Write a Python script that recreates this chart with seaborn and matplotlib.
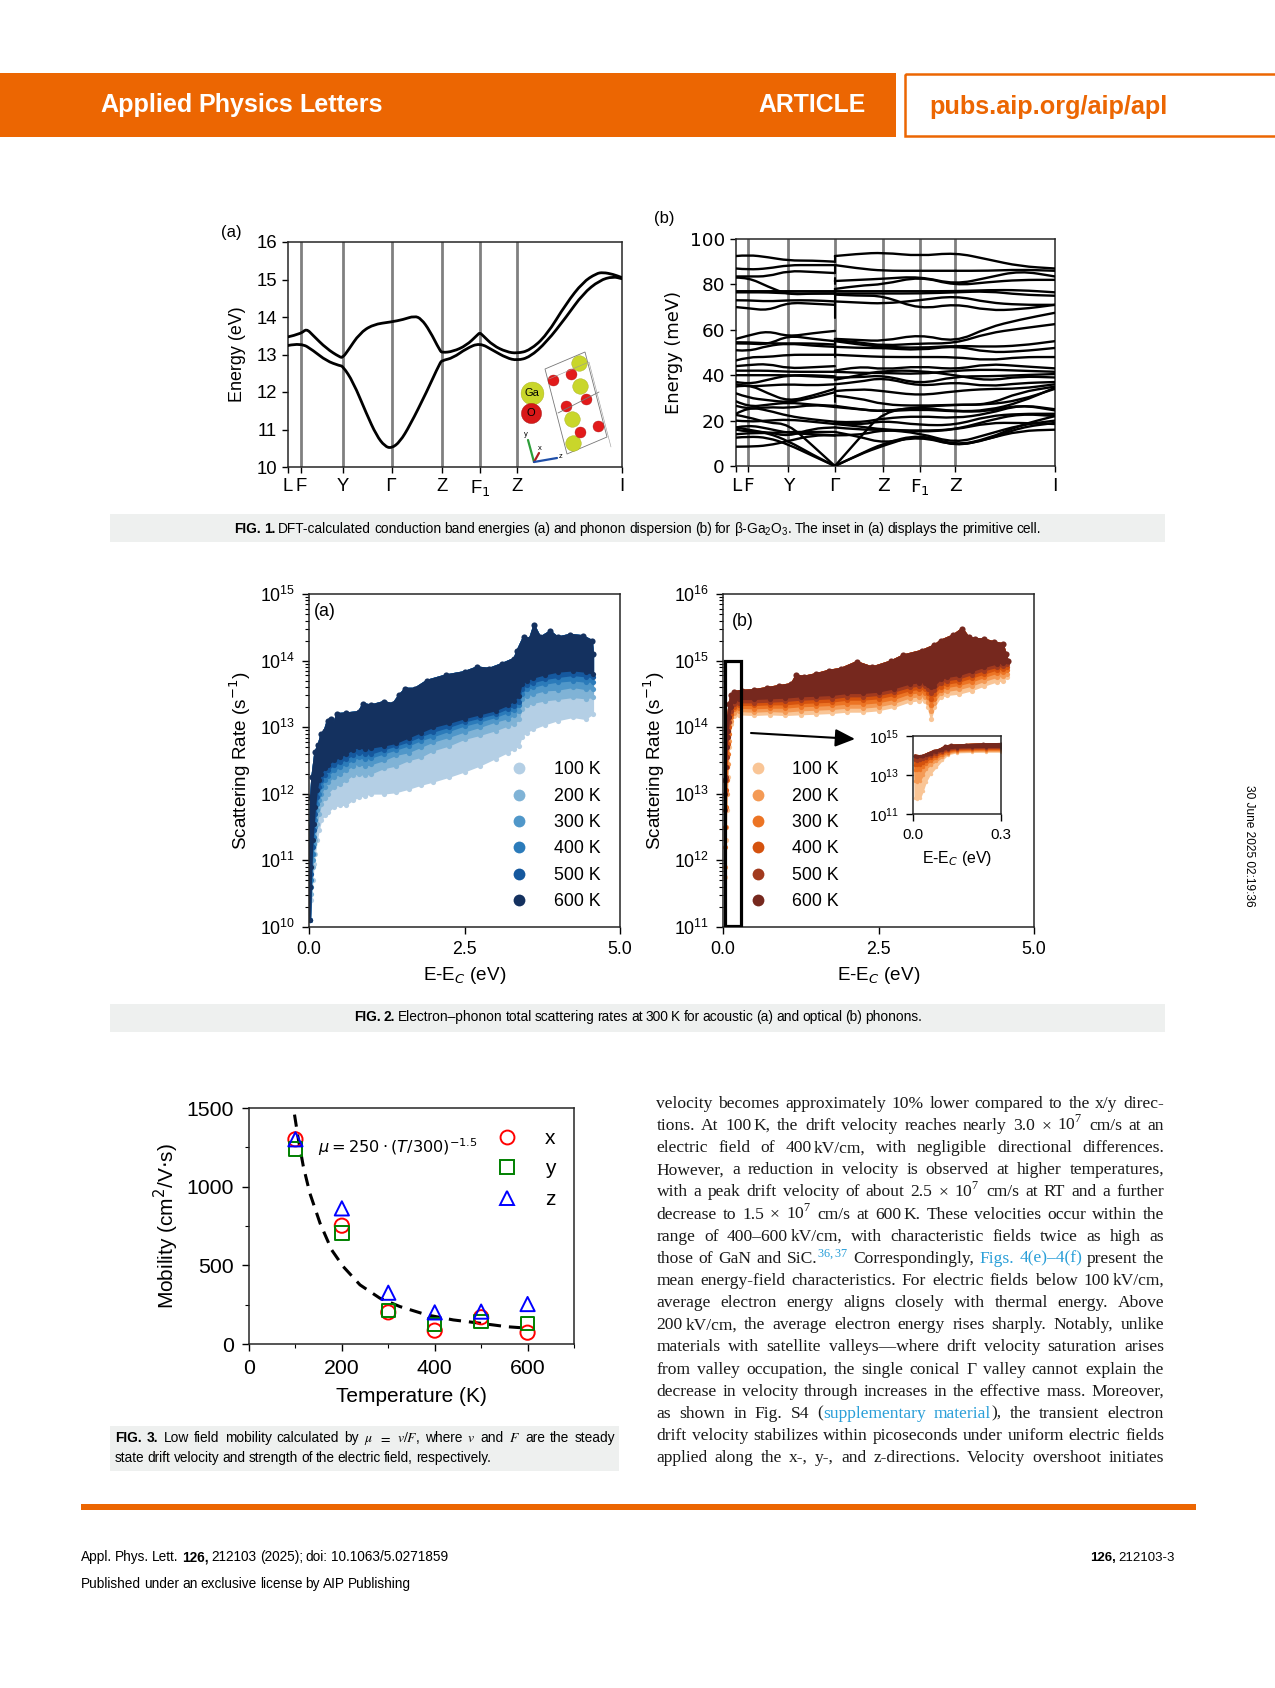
import numpy as np
import pandas as pd
import seaborn as sns
import matplotlib.pyplot as plt
from matplotlib.lines import Line2D
from matplotlib.path import Path
from matplotlib.patches import Rectangle, Polygon, PathPatch
from matplotlib.ticker import LogLocator, NullFormatter, FixedLocator

ORANGE = '#EC6602'
BAND = '#EEF0EF'
BLUE_LINK = '#2A9FD8'
SANS = 'Liberation Sans'
SERIF = 'Liberation Serif'

# k-path labels shared by both band plots
k_ticks = [0, 0.039, 0.164, 0.31, 0.462, 0.576, 0.687, 1]
k_labels = ['L', 'F', 'Y', r'$\Gamma$', 'Z', r'F$_1$', 'Z', 'I']

# Fig 1a conduction bands
cb_upper_k = [0, .039, .055, .075, .115, .155, .164, .18, .214, .254, .31, .344, .379, .399, .424, .455, .462, .494, .534, .567, .574, .582,
              .614, .654, .686, .724, .774, .833, .883, .923, .943, .973, 1]
cb_upper = [13.47, 13.55, 13.69, 13.51, 13.16, 12.93, 12.92, 13.11, 13.56, 13.8, 13.87, 13.93, 14.03, 13.95, 13.64, 13.1, 13.05,
            13.08, 13.24, 13.52, 13.58, 13.52, 13.24, 13.07, 13.03, 13.11, 13.51, 14.36, 14.93, 15.16, 15.19, 15.14, 15.05]
cb_lower_k = [0, .039, .075, .115, .155, .164, .195, .235, .265, .29, .31, .335, .365, .415, .455, .462, .494, .534, .574,
              .614, .654, .686, .724, .774, .833, .883, .933, .973, 1]
cb_lower = [13.24, 13.31, 13.11, 12.83, 12.7, 12.69, 12.27, 11.42, 10.84, 10.55, 10.5, 10.67, 11.11, 12.0, 12.78, 12.84, 12.91,
            13.16, 13.31, 13.11, 12.91, 12.84, 12.93, 13.33, 14.0, 14.62, 14.98, 15.08, 15.02]

# Fig 1b phonon branches, read at the k points below (Gamma twice: LO-TO jump)
ph_k = [0, .039, .10, .164, .24, .31, .31, .385, .462, .576, .687, .79, .89, 1]
ph_bands = [
    [92.5, 93, 92, 90.5, 90.5, 90, 92.5, 93.5, 94, 92.5, 94, 91, 88, 87],
    [87, 86.5, 87, 88.5, 88.5, 88.5, 88.5, 87, 86, 86, 86, 86, 86.5, 86],
    [83.5, 83.5, 83.5, 86, 85.5, 85, 81.5, 82, 82.5, 83.5, 80, 83, 86, 83.5],
    [83, 83, 79, 75.5, 76, 76, 78, 79.5, 80, 83.5, 79.5, 81, 82, 82],
    [77, 77, 77, 77, 77, 77, 77, 77, 77, 77, 77, 77.5, 77.5, 76.5],
    [76.5, 76.5, 76.5, 76, 76, 76, 76, 76, 76, 76, 76.5, 77, 75.5, 75],
    [73, 73, 72.5, 73, 73, 72.5, 72.5, 72, 71.5, 73, 75, 72, 71, 71],
    [70, 69.5, 68.5, 72, 71.5, 71, 75.5, 75, 75, 69, 71.5, 68.5, 69, 71],
    [56, 57.5, 59.5, 57, 58.5, 59.5, 56, 55.5, 55, 58, 54.5, 61, 64.5, 67.5],
    [54.5, 54.5, 54, 54, 54, 53.5, 55.5, 54.5, 53, 54, 54, 58.5, 60.5, 62.5],
    [54, 54, 53.5, 57.5, 56, 55, 55, 53.5, 52.5, 52, 53, 52.5, 53, 55],
    [51, 50.5, 53, 54, 53, 52.5, 52.5, 52, 52, 51, 53, 50, 50.5, 52],
    [46.5, 48, 48, 49, 49, 49, 49, 48.5, 48, 48, 48, 46.5, 48, 48],
    [44, 44.5, 45, 43, 43.5, 44, 42, 44, 42.5, 44, 42.5, 45, 44, 43],
    [42, 42, 42, 41.5, 41.5, 41.5, 41.5, 41, 41, 40.5, 42, 42.5, 42, 41.5],
    [40, 40, 40, 40, 39.5, 39, 39, 39, 40, 36, 39.5, 39.5, 40, 40.5],
    [37, 36, 38, 40, 40, 39.5, 38, 40, 42, 42, 40, 37.5, 39.5, 39],
    [36, 35, 35.5, 36, 35.5, 36, 36, 37, 39, 35, 37, 35, 36.5, 37],
    [35, 36, 32, 28.5, 31, 34, 33, 34, 33, 31, 33, 34, 34, 36],
    [32, 30, 29, 28, 30, 32.5, 31, 30, 27, 26.5, 27, 27, 32.5, 35],
    [28.5, 26, 27, 28, 27, 26.5, 26.5, 25, 24, 26, 24, 24.5, 28, 34.5],
    [26.5, 25, 26, 25.5, 27, 26, 26, 25, 24, 25, 24, 24, 27, 24.5],
    [23, 26, 24.5, 22, 20.5, 19.5, 19.5, 19, 21, 22, 21, 23, 27, 25],
    [22.5, 21.5, 19, 18.5, 9, 0, 0, 12, 24, 26, 27, 27, 29, 34],
    [17, 16, 14.5, 11, 5, 0, 0, 5, 10, 14, 9, 12, 18, 22],
    [12.5, 13, 12.5, 9.5, 4.5, 0, 0, 5, 9, 14, 8.5, 12, 15.5, 16],
    [17, 18, 16.5, 14.5, 14, 13.5, 13.5, 13.5, 16, 15, 16, 19, 19, 18.5],
    [16, 15, 15, 13, 16.5, 17, 17, 16, 16, 14.5, 10, 14, 18, 20],
    [14, 14.5, 14.5, 15, 15, 15, 15, 13, 10, 13, 9, 11.5, 17, 19],
    [8.5, 8.5, 9, 11, 13.5, 13.5, 19, 18, 20, 18, 18, 22, 23, 23],
    [20, 19.5, 20, 20.5, 19.5, 18.5, 18.5, 17.5, 16, 15.5, 16, 20, 23, 22],
]
# short vertical jumps right at Gamma
gamma_k = 0.31
gamma_jumps = [(65, 78), (80, 83), (85, 88), (90, 92.5), (48, 55.5), (28, 35)]

temps = ['100 K', '200 K', '300 K', '400 K', '500 K', '600 K']
blues = ['#B4CFE5', '#80B3D6', '#5097C9', '#2B7BBA', '#15589E', '#14315F']
browns = ['#F9C596', '#F49A55', '#EC7424', '#D4520E', '#A23A1E', '#76281E']

# Fig 2a acoustic rates, log10(s^-1)
ac_x = [.02, .04, .06, .08, .1, .13, .16, .2, .25, .3, .4, .5, .6, .7, .8, .9, 1.0, 1.2, 1.4, 1.6, 1.8, 2.0, 2.25,
        2.5, 2.75, 3.0, 3.2, 3.3, 3.38, 3.42, 3.5, 3.6, 3.8, 4.0, 4.25, 4.45, 4.57]
ac_100 = [10.1, 10.4, 10.7, 10.95, 11.1, 11.3, 11.45, 11.6, 11.68, 11.72, 11.8, 11.83, 11.83, 11.9, 11.95, 11.97, 12.0,
          12.0, 12.02, 12.07, 12.13, 12.18, 12.25, 12.33, 12.42, 12.53, 12.62, 12.68, 12.72, 12.85, 12.92, 12.97,
          13.04, 13.1, 13.15, 13.12, 13.2]
ac_200 = [10.1, 10.5, 10.9, 11.1, 11.3, 11.55, 11.7, 11.85, 11.93, 12.0, 12.1, 12.15, 12.2, 12.28, 12.3, 12.28, 12.3,
          12.38, 12.42, 12.5, 12.55, 12.65, 12.72, 12.82, 12.88, 12.95, 13.02, 13.05, 13.12, 13.28, 13.33, 13.36,
          13.4, 13.42, 13.45, 13.43, 13.45]
ac_300 = [10.1, 10.6, 11.0, 11.25, 11.5, 11.75, 11.9, 12.0, 12.1, 12.17, 12.25, 12.3, 12.35, 12.42, 12.45, 12.42, 12.44,
          12.5, 12.58, 12.62, 12.7, 12.78, 12.85, 12.93, 13.0, 13.08, 13.13, 13.18, 13.25, 13.42, 13.47, 13.5,
          13.55, 13.56, 13.6, 13.57, 13.58]
ac_400 = [10.1, 10.7, 11.1, 11.35, 11.6, 11.85, 12.0, 12.12, 12.2, 12.27, 12.35, 12.4, 12.45, 12.5, 12.55, 12.52, 12.54,
          12.6, 12.66, 12.72, 12.8, 12.86, 12.94, 13.02, 13.08, 13.15, 13.22, 13.26, 13.33, 13.5, 13.57, 13.6,
          13.65, 13.68, 13.7, 13.68, 13.68]
ac_500 = [10.1, 10.8, 11.2, 11.45, 11.7, 11.95, 12.1, 12.2, 12.28, 12.35, 12.43, 12.47, 12.52, 12.58, 12.62, 12.6, 12.6,
          12.66, 12.72, 12.78, 12.86, 12.93, 13.0, 13.08, 13.14, 13.2, 13.28, 13.32, 13.38, 13.57, 13.63, 13.67,
          13.72, 13.75, 13.78, 13.76, 13.75]
ac_600 = [10.1, 10.9, 11.3, 11.55, 11.8, 12.05, 12.2, 12.3, 12.38, 12.43, 12.5, 12.55, 12.6, 12.66, 12.7, 12.67, 12.69,
          12.72, 12.76, 12.84, 12.92, 13.0, 13.06, 13.13, 13.19, 13.25, 13.33, 13.4, 13.47, 13.65, 13.7, 13.74,
          13.79, 13.83, 13.85, 13.83, 13.8]
ac_top_x = [.01, .02, .03, .05, .1, .15, .2, .25, .3, .35, .4, .45, .6, .8, .87, 1.0, 1.2, 1.35, 1.45, 1.55, 1.7, 1.9,
            2.2, 2.5, 2.7, 2.9, 3.1, 3.3, 3.35, 3.45, 3.55, 3.62, 3.72, 3.88, 4.0, 4.2, 4.4, 4.55, 4.57]
ac_top = [10.6, 11.5, 11.95, 12.25, 12.63, 12.73, 12.9, 12.95, 13.1, 13.13, 13.05, 13.2, 13.21, 13.23, 13.35, 13.33,
          13.38, 13.35, 13.48, 13.58, 13.58, 13.7, 13.78, 13.83, 13.9, 13.88, 13.95, 14.03, 14.15, 14.35, 14.33,
          14.53, 14.35, 14.44, 14.35, 14.39, 14.37, 14.3, 14.1]

# Fig 2b optical rates, log10(s^-1)
op_x = [.03, .045, .06, .08, .1, .13, .17, .25, .5, .75, 1.0, 1.25, 1.5, 1.75, 2.0, 2.25, 2.5, 2.75, 3.0, 3.15, 3.25,
        3.3, 3.35, 3.4, 3.5, 3.6, 3.8, 4.0, 4.2, 4.4, 4.5, 4.57]
op_100 = [11.75, 12.3, 12.75, 13.25, 13.7, 14.05, 14.17, 14.19, 14.18, 14.19, 14.18, 14.19, 14.2, 14.21, 14.23, 14.23,
          14.25, 14.3, 14.38, 14.4, 14.4, 14.3, 14.13, 14.3, 14.45, 14.48, 14.5, 14.55, 14.62, 14.68, 14.7, 14.75]
op_200 = [11.9, 12.5, 13.0, 13.45, 13.8, 14.1, 14.22, 14.24, 14.23, 14.24, 14.23, 14.25, 14.26, 14.27, 14.29, 14.29,
          14.31, 14.36, 14.44, 14.46, 14.46, 14.38, 14.24, 14.37, 14.51, 14.54, 14.57, 14.62, 14.69, 14.75, 14.77, 14.8]
op_300 = [12.2, 12.8, 13.2, 13.6, 13.9, 14.15, 14.27, 14.29, 14.28, 14.29, 14.29, 14.31, 14.32, 14.33, 14.35, 14.35,
          14.37, 14.42, 14.5, 14.52, 14.52, 14.45, 14.33, 14.43, 14.56, 14.6, 14.63, 14.68, 14.75, 14.81, 14.83, 14.86]
op_400 = [12.5, 13.05, 13.4, 13.75, 14.0, 14.2, 14.31, 14.33, 14.33, 14.34, 14.34, 14.36, 14.37, 14.38, 14.41, 14.41,
          14.43, 14.48, 14.55, 14.57, 14.57, 14.52, 14.42, 14.5, 14.61, 14.65, 14.68, 14.74, 14.8, 14.86, 14.88, 14.9]
op_500 = [12.75, 13.25, 13.55, 13.85, 14.08, 14.25, 14.35, 14.37, 14.37, 14.38, 14.39, 14.41, 14.42, 14.43, 14.46, 14.46,
          14.48, 14.53, 14.6, 14.62, 14.62, 14.58, 14.51, 14.56, 14.66, 14.7, 14.73, 14.79, 14.85, 14.9, 14.92, 14.95]
op_600 = [13.0, 13.4, 13.7, 13.95, 14.15, 14.3, 14.4, 14.42, 14.42, 14.43, 14.44, 14.46, 14.47, 14.48, 14.51, 14.51,
          14.53, 14.58, 14.65, 14.67, 14.67, 14.64, 14.6, 14.62, 14.72, 14.75, 14.78, 14.84, 14.9, 14.95, 14.97, 15.0]
op_top_x = [.03, .06, .08, .1, .13, .18, .3, .5, .7, .9, 1.1, 1.18, 1.3, 1.5, 1.7, 1.9, 2.15, 2.4, 2.7, 2.9, 3.2, 3.4,
            3.5, 3.7, 3.85, 3.95, 4.05, 4.2, 4.35, 4.5, 4.55, 4.58]
op_top = [13.2, 13.85, 14.15, 14.35, 14.48, 14.53, 14.55, 14.56, 14.59, 14.62, 14.65, 14.78, 14.76, 14.8, 14.85, 14.88,
          14.98, 14.9, 14.99, 15.08, 15.15, 15.23, 15.3, 15.38, 15.48, 15.35, 15.33, 15.32, 15.28, 15.25, 15.1, 15.0]

# Fig 2b inset
ins_x = [.008, .015, .025, .035, .045, .06, .08, .1, .12, .15, .2, .25, .3]
ins_100 = [11.8, 11.75, 11.8, 12.2, 12.65, 13.05, 13.4, 13.75, 14.05, 14.15, 14.17, 14.18, 14.18]
ins_200 = [12.7, 12.65, 12.7, 13.0, 13.3, 13.5, 13.7, 13.9, 14.1, 14.2, 14.22, 14.23, 14.23]
ins_300 = [13.25, 13.25, 13.25, 13.4, 13.55, 13.7, 13.85, 14.02, 14.15, 14.25, 14.27, 14.28, 14.28]
ins_400 = [13.5, 13.5, 13.5, 13.6, 13.7, 13.85, 13.97, 14.12, 14.22, 14.3, 14.32, 14.33, 14.33]
ins_500 = [13.75, 13.72, 13.75, 13.8, 13.88, 13.98, 14.08, 14.2, 14.28, 14.35, 14.37, 14.38, 14.38]
ins_600 = [13.95, 13.93, 13.95, 13.98, 14.03, 14.1, 14.2, 14.28, 14.35, 14.4, 14.42, 14.43, 14.43]
ins_top_x = [.006, .03, .05, .07, .09, .11, .13, .18, .24, .3]
ins_top = [14.0, 13.97, 14.1, 14.23, 14.3, 14.47, 14.52, 14.55, 14.59, 14.6]

# Fig 3 mobility
T_vals = [100, 200, 300, 400, 500, 600]
mu_x = [1301, 752, 201, 85, 170, 72]
mu_y = [1240, 704, 212, 125, 142, 131]
mu_z = [1301, 862, 326, 201, 206, 254]
fit_T = [98, 106.5, 117, 131, 153, 178, 203, 239, 282, 325, 383, 440, 498, 555, 602]
fit_mu = [1458, 1298, 1129, 959, 768, 598, 492, 376, 291, 238, 185, 153, 132, 110, 100]

body_lines = [
    "velocity becomes approximately 10% lower compared to the x/y direc-",
    "tions. At 100 +K, the drift velocity reaches nearly 3.0 × 10$^{\\mathregular{7}}$ cm/s at an",
    "electric field of 400 +kV/cm, with negligible directional differences.",
    "However, a reduction in velocity is observed at higher temperatures,",
    "with a peak drift velocity of about 2.5 × 10$^{\\mathregular{7}}$ cm/s at RT and a further",
    "decrease to 1.5 × 10$^{\\mathregular{7}}$ cm/s at 600 +K. These velocities occur within the",
    "range of 400–600 +kV/cm, with characteristic fields twice as high as",
    "those of GaN and SiC. ~#$^{\\mathregular{36,37}}$ Correspondingly, #Figs. #4(e)–4(f) present the",
    "mean energy-field characteristics. For electric fields below 100 +kV/cm,",
    "average electron energy aligns closely with thermal energy. Above",
    "200 +kV/cm, the average electron energy rises sharply. Notably, unlike",
    "materials with satellite valleys—where drift velocity saturation arises",
    "from valley occupation, the single conical Γ valley cannot explain the",
    "decrease in velocity through increases in the effective mass. Moreover,",
    "as shown in Fig. S4 ( ~#supplementary #material ~), the transient electron",
    "drift velocity stabilizes within picoseconds under uniform electric fields",
    "applied along the x-, y-, and z-directions. Velocity overshoot initiates",
]

sns.set_theme(style='ticks')
plt.rcParams['font.family'] = [SANS, 'DejaVu Sans']
plt.rcParams['mathtext.fontset'] = 'dejavusans'
plt.rcParams['axes.linewidth'] = 1.1
plt.rcParams['xtick.color'] = 'black'
plt.rcParams['ytick.color'] = 'black'
plt.rcParams['text.color'] = 'black'
plt.rcParams['axes.labelcolor'] = 'black'

W, H = 1275, 1688
fig = plt.figure(figsize=(W / 100, H / 100), dpi=100)


def make_ax(left, right, top, bottom):
    return fig.add_axes([left / W, 1 - bottom / H, (right - left) / W, (bottom - top) / H])


# page furniture goes on one full page axes in pixel coords
page = fig.add_axes([0, 0, 1, 1], zorder=5)
page.set_xlim(0, W)
page.set_ylim(H, 0)
page.axis('off')
renderer = fig.canvas.get_renderer()


def fit_line(line, x0, x1, y, size, family, color='black', weight='normal', mathfont='dejavusans'):
    # place words one by one so the line fills x0..x1
    # * bold, # link colour, + attach with thin gap, ~ attach with no gap
    items = []
    for w in line.split(' '):
        glue = None
        if w.startswith('+'):
            glue, w = 2.5, w[1:]
        elif w.startswith('~'):
            glue, w = 0.0, w[1:]
        col, wt = color, weight
        if w.startswith('#'):
            col, w = BLUE_LINK, w[1:]
        if w.startswith('*'):
            wt, w = 'bold', w[1:]
        t = page.text(0, y, w, fontsize=size, family=family, color=col, weight=wt, va='baseline', ha='left',
                      math_fontfamily=mathfont)
        items.append((t, glue, t.get_window_extent(renderer).width))
    total = sum(i[2] for i in items) + sum(i[1] for i in items if i[1] is not None)
    n_gaps = sum(1 for i in items[1:] if i[1] is None)
    gap = (x1 - x0 - total) / max(n_gaps, 1)
    x = x0
    for n, (t, glue, w) in enumerate(items):
        if n > 0:
            x += gap if glue is None else glue
        t.set_x(x)
        x += w


def smooth_band(ax, k, e, lw):
    # quadratic path with the read values as control points, keeps the band lines round
    pts = np.column_stack([k, e])
    verts = [pts[0]]
    codes = [Path.MOVETO]
    for i in range(1, len(pts) - 1):
        verts += [pts[i], (pts[i] + pts[i + 1]) / 2]
        codes += [Path.CURVE3, Path.CURVE3]
    verts.append(pts[-1])
    codes.append(Path.LINETO)
    ax.add_patch(PathPatch(Path(verts, codes), fill=False, ec='black', lw=lw, zorder=3, capstyle='round'))


def setup_band_axes(ax, family, size, ylabel, ylim, yticks, label_x):
    ax.set_xlim(0, 1)
    ax.set_ylim(*ylim)
    ax.set_yticks(yticks)
    ax.set_xticks(k_ticks)
    ax.set_xticklabels(k_labels)
    for v in k_ticks[1:-1]:
        ax.axvline(v, color='#808080', lw=2.0, zorder=1)
    ax.tick_params(length=4, width=1.0, labelsize=size, pad=4)
    for lab in ax.get_xticklabels() + ax.get_yticklabels():
        lab.set_family(family)
    ax.set_xlabel('')
    ax.set_ylabel(ylabel, fontsize=12.9, family=family)
    ax.yaxis.set_label_coords(label_x, 0.5)


# FIG 1a
ax1 = make_ax(288, 622, 242, 467)
smooth_band(ax1, cb_upper_k, cb_upper, 2.0)
smooth_band(ax1, cb_lower_k, cb_lower, 2.0)
setup_band_axes(ax1, SANS, 13.3, 'Energy (eV)', (10, 16), range(10, 17), -0.125)

# FIG 1b
ax2 = make_ax(736, 1055, 239, 466)
for band in ph_bands:
    smooth_band(ax2, ph_k[:6], band[:6], 1.7)
    smooth_band(ax2, ph_k[6:], band[6:], 1.7)
for lo, hi in gamma_jumps:
    sns.lineplot(x=[gamma_k, gamma_k], y=[lo, hi], color='black', lw=1.5, ax=ax2, zorder=3, sort=False, estimator=None)
setup_band_axes(ax2, 'DejaVu Sans', 13.3, 'Energy (meV)', (0, 100), range(0, 101, 20), -0.165)


def rate_panel(ax, x, lowers, top_x, top, colors, size=14):
    # each temperature fills from its lower edge up to the top envelope, dots give the lumpy edge
    top_x = np.array(top_x)
    top_y = 10.0 ** np.array(top)
    for low, col in zip(lowers, colors):
        low_y = 10.0 ** np.array(low)
        ax.fill(np.r_[x, top_x[::-1]], np.r_[low_y, top_y[::-1]], color=col, lw=1.2, zorder=2, joinstyle='round')
        sns.scatterplot(x=x, y=low_y, color=col, s=size, linewidth=0, ax=ax, zorder=2, legend=False)
    sns.scatterplot(x=top_x, y=top_y, color=colors[-1], s=size * 1.4, linewidth=0, ax=ax, zorder=2, legend=False)


def setup_rate_axes(ax, ylim, xlim, xticks, size, lab_x, minor=True):
    ax.set_yscale('log')
    ax.set_ylim(*ylim)
    ax.set_xlim(*xlim)
    ax.set_xticks(xticks)
    ax.set_xticklabels([f'{v:.1f}' for v in xticks])
    ax.tick_params(which='major', length=5, width=1.0, labelsize=size, pad=5)
    ax.tick_params(which='minor', length=3, width=0.8)
    ax.yaxis.set_major_locator(LogLocator(base=10, numticks=12))
    if minor:
        ax.yaxis.set_minor_locator(LogLocator(base=10, subs=np.arange(2, 10) * 0.1, numticks=12))
    else:
        ax.yaxis.set_minor_locator(FixedLocator([]))
    ax.yaxis.set_minor_formatter(NullFormatter())
    ax.set_xlabel(r'E-E$_C$ (eV)', fontsize=size * 1.06, labelpad=5)
    if lab_x is not None:
        ax.set_ylabel(r'Scattering Rate (s$^{-1}$)', fontsize=size * 1.06)
        ax.yaxis.set_label_coords(lab_x, 0.5)
    else:
        ax.set_ylabel('')


def temp_legend(ax, colors, anchor):
    handles = [Line2D([], [], marker='o', ls='', ms=8.5, color=c, mew=0) for c in colors]
    ax.legend(handles, temps, loc='center', bbox_to_anchor=anchor, frameon=False, fontsize=12.8,
              handletextpad=0.92, labelspacing=0.525, borderpad=0, borderaxespad=0)


# FIG 2a
ax3 = make_ax(309, 620, 594, 927)
rate_panel(ax3, ac_x, [ac_100, ac_200, ac_300, ac_400, ac_500, ac_600], ac_top_x, ac_top, blues)
setup_rate_axes(ax3, (1e10, 1e15), (0, 5), [0, 2.5, 5], 12.8, -0.18)
temp_legend(ax3, blues, (0.778, 0.274))

# FIG 2b
ax4 = make_ax(723, 1034, 594, 927)
rate_panel(ax4, op_x, [op_100, op_200, op_300, op_400, op_500, op_600], op_top_x, op_top, browns)
setup_rate_axes(ax4, (1e11, 1e16), (0, 5), [0, 2.5, 5], 12.8, -0.18)
temp_legend(ax4, browns, (0.214, 0.274))
ax4.add_patch(Rectangle((0.027, 1.05e11), 0.268, 1e15 - 1.05e11, fill=False, ec='black', lw=2.3, zorder=4))

# FIG 2b inset
ax5 = make_ax(913, 1001, 736, 814)
rate_panel(ax5, ins_x, [ins_100, ins_200, ins_300, ins_400, ins_500, ins_600], ins_top_x, ins_top, browns, size=6)
setup_rate_axes(ax5, (1e11, 1e15), (0, 0.3), [0, 0.3], 10.8, None, minor=False)
ax5.set_yticks([1e11, 1e13, 1e15])
ax5.minorticks_off()

# FIG 3
ax6 = make_ax(249, 574, 1108, 1344)
sns.lineplot(x=fit_T, y=fit_mu, color='black', lw=2.2, ax=ax6, zorder=2, linestyle=(0, (4, 2.6)))
for vals, marker, col, s in [(mu_x, 'o', 'red', 105), (mu_y, 's', 'green', 95), (mu_z, '^', 'blue', 105)]:
    sns.scatterplot(x=T_vals, y=vals, marker=marker, s=s, facecolors='none', edgecolor=col, linewidth=1.4,
                    ax=ax6, zorder=3, legend=False)
ax6.set_xlim(0, 700)
ax6.set_ylim(0, 1500)
ax6.set_xticks([0, 200, 400, 600])
ax6.set_xticks([100, 300, 500, 700], minor=True)
ax6.set_yticks([0, 500, 1000, 1500])
ax6.set_yticks([250, 750, 1250], minor=True)
ax6.tick_params(which='major', length=5, width=1.0, labelsize=15.3, pad=6)
ax6.tick_params(which='minor', length=3, width=0.8)
ax6.set_xlabel('Temperature (K)', fontsize=15, labelpad=6)
ax6.set_ylabel(r'Mobility (cm$^2$/V$\cdot$s)', fontsize=15)
ax6.yaxis.set_label_coords(-0.209, 0.5)
ax6.text(0.213, 0.835, r'$\mu = 250 \cdot (T/300)^{-1.5}$', transform=ax6.transAxes, fontsize=11.6, family='DejaVu Sans',
         va='center')
legend_handles = [Line2D([], [], marker=m, ls='', ms=10, mfc='none', mec=c, mew=1.4)
                  for m, c in [('o', 'red'), ('s', 'green'), ('^', 'blue')]]
ax6.legend(legend_handles, ['x', 'y', 'z'], loc='center', bbox_to_anchor=(0.837, 0.742), frameon=False, fontsize=15,
           handletextpad=0.8, labelspacing=0.55, borderpad=0, borderaxespad=0)

# header
page.add_patch(Rectangle((0, 73), 896, 64, color=ORANGE, lw=0))
page.add_patch(Rectangle((905, 74), 372, 62, fill=False, ec=ORANGE, lw=1.8))
fit_line('Applied Physics Letters', 100, 383, 112, 18.1, SANS, color='white', weight='bold')
fit_line('ARTICLE', 758, 864, 112, 17.8, SANS, color='white', weight='bold')
fit_line('pubs.aip.org/aip/apl', 929, 1168, 114, 18.2, SANS, color=ORANGE, weight='bold')

# caption bands
page.add_patch(Rectangle((110, 514), 1055, 28, color=BAND, lw=0))
page.add_patch(Rectangle((110, 1004), 1055, 28, color=BAND, lw=0))
page.add_patch(Rectangle((110, 1426), 509, 45, color=BAND, lw=0))
fit_line('*FIG. *1. DFT-calculated conduction band energies (a) and phonon dispersion (b) for β-Ga$_{\\mathregular{2}}$O$_{\\mathregular{3}}$. The inset in (a) displays the primitive cell.',
         234, 1041, 533, 9.95, SANS)
fit_line('*FIG. *2. Electron–phonon total scattering rates at 300 K for acoustic (a) and optical (b) phonons.',
         354, 922, 1021, 9.95, SANS)
fit_line('*FIG. *3. Low field mobility calculated by $\\mu$ $=$ $v/F$, where $v$ and $F$ are the steady',
         115, 615, 1442, 9.95, SANS, mathfont='stix')
fit_line('state drift velocity and strength of the electric field, respectively.', 115, 491, 1462, 9.8, SANS)

# panel letters
for x, y, s, fs in [(231, 233, '(a)', 12), (664, 218, '(b)', 12), (325, 612, '(a)', 12.8), (743, 622, '(b)', 12.8)]:
    page.text(x, y, s, fontsize=fs, ha='center', va='center')

# arrow from the box to the inset
page.annotate('', xy=(855, 739), xytext=(751, 733),
              arrowprops=dict(arrowstyle='-|>,head_width=0.45,head_length=1.0', color='black', lw=1.5, shrinkA=0, shrinkB=0))

# primitive cell sketch in Fig 1a
page.add_patch(Polygon([(545, 369), (585, 352), (607, 437), (567, 454)], fill=False, ec='#777777', lw=0.6))
page.plot([558, 599], [413, 392], color='#777777', lw=0.6)
page.plot([549, 589, 611], [379, 362, 447], color='#999999', lw=0.4)
page.scatter([579, 580, 572, 573], [363, 386, 419, 443], s=125, color='#C9D62B', edgecolor='#A8B020', lw=0.3)
page.scatter([571, 553, 586, 566, 598, 580], [374, 380, 399, 406, 426, 432], s=62, color='#E21A1A', edgecolor='#B01010', lw=0.3)
page.scatter([532], [393], s=270, color='#C9D62B', edgecolor='#A8B020', lw=0.3)
page.scatter([531], [413], s=210, color='#D81818', edgecolor='#A01010', lw=0.3)
page.text(532, 393.5, 'Ga', fontsize=8, ha='center', va='center')
page.text(531, 413.5, 'O', fontsize=8, ha='center', va='center')
page.plot([534, 528], [462, 440], color='#2E9E3A', lw=1.6)
page.plot([534, 539], [462, 453], color='#B02020', lw=1.6)
page.plot([534, 557], [462, 458], color='#1F4FA8', lw=1.6)
page.text(526, 435, 'y', fontsize=5.5, ha='center', va='center')
page.text(540, 449, 'x', fontsize=5.5, ha='center', va='center')
page.text(561, 457, 'z', fontsize=5.5, ha='center', va='center')

# body text
for i, line in enumerate(body_lines):
    baseline = 1108 + i * (1462 - 1108) / (len(body_lines) - 1)
    fit_line(line, 656.5, 1164, baseline, 12.6, SERIF, color='#1A1A1A')

# footer
page.add_patch(Rectangle((81, 1504), 1115, 6, color=ORANGE, lw=0))
fit_line('Appl. Phys. Lett. *126, 212103 (2025); doi: 10.1063/5.0271859', 81, 448, 1561, 9.8, SANS)
fit_line('Published under an exclusive license by AIP Publishing', 81, 411, 1588, 9.8, SANS)
fit_line('*126, 212103-3', 1090, 1175, 1561, 9.5, SANS)
page.text(1249, 846, '30 June 2025 02:19:36', fontsize=8.6, rotation=-90, ha='center', va='center')

fig.savefig('out.png', dpi=100)
